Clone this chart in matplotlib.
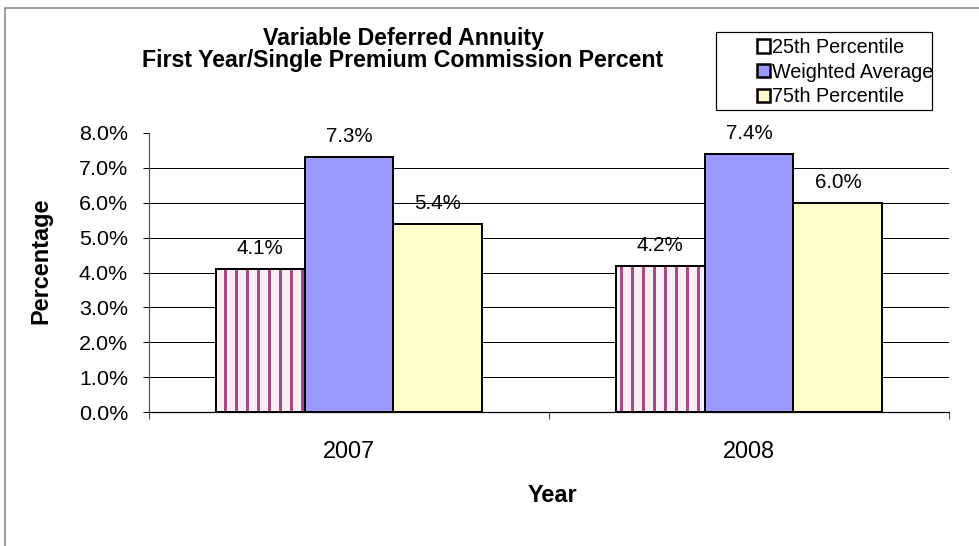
import matplotlib
matplotlib.use("Agg")
import matplotlib.pyplot as plt
import numpy as np
from matplotlib.patches import Rectangle

plt.rcParams['font.family'] = ['Liberation Sans', 'DejaVu Sans']

years = ["2007", "2008"]
series_names = ["25th Percentile", "Weighted Average", "75th Percentile"]
p25 = [0.041, 0.042]
wavg = [0.073, 0.074]
p75 = [0.054, 0.060]
yticks = [0.0, 0.01, 0.02, 0.03, 0.04, 0.05, 0.06, 0.07, 0.08]

DPI = 132
W, H = 979, 546
fig = plt.figure(figsize=(W / DPI, H / DPI), dpi=DPI)
fig.patch.set_facecolor('white')

px = lambda v: v * 72.0 / DPI  # pixels -> points

# outer chart frame
fig.patches.append(Rectangle((5 / W, -0.05), 1.2, 1 - 8 / H + 0.05, transform=fig.transFigure,
                             fill=False, edgecolor='#808080', linewidth=px(1.5), zorder=0))

ax = fig.add_axes([149 / W, 1 - 412 / H, 800 / W, (412 - 133) / H])
x = np.arange(len(years))
bw = 2 / 9

plt.rcParams['hatch.linewidth'] = px(3.0)
# hatched 25th percentile fill
ax.bar(x - bw, p25, bw, color='#FCEEF5', edgecolor='#A64C85', hatch='||', linewidth=0, zorder=3)
b1 = ax.bar(x - bw, p25, bw, facecolor='none', edgecolor='black', linewidth=px(2), zorder=4,
            label=series_names[0])
b2 = ax.bar(x, wavg, bw, color='#9999FF', edgecolor='black', linewidth=px(2), zorder=4,
            label=series_names[1])
b3 = ax.bar(x + bw, p75, bw, color='#FFFFCC', edgecolor='black', linewidth=px(2), zorder=4,
            label=series_names[2])

lab_fs = px(20.5)
for b in (b1, b2, b3):
    ax.bar_label(b, labels=[f"{v*100:.1f}%" for v in b.datavalues], padding=px(11),
                 fontsize=lab_fs, color='black')

ax.set_xlim(-0.5, 1.5)
ax.set_ylim(0, 0.08)
ax.set_yticks(yticks)
ax.set_yticklabels([f"{v*100:.1f}%" for v in yticks])
ax.tick_params(axis='y', direction='out', length=px(6), width=px(1), pad=px(15),
               labelsize=px(21.5), colors='black')
ax.yaxis.grid(True, color='black', linewidth=px(1))
ax.set_axisbelow(True)
fig.canvas.draw()
ax.yaxis.get_gridlines()[-1].set_visible(False)

ax.set_xticks([-0.5, 0.5, 1.5])
ax.set_xticklabels([])
ax.set_xticks(x, minor=True)
ax.set_xticklabels(years, minor=True)
ax.tick_params(axis='x', which='major', direction='out', length=px(7), width=px(1), color='#444444')
ax.tick_params(axis='x', which='minor', length=0, pad=px(28), labelsize=px(23.5))

for s in ('top', 'right'):
    ax.spines[s].set_visible(False)
ax.spines['left'].set_color('#555555')
ax.spines['left'].set_linewidth(px(1.2))
ax.spines['bottom'].set_color('black')
ax.spines['bottom'].set_linewidth(px(1.2))

# titles
fig.text(403 / W, 1 - 45 / H, "Variable Deferred Annuity", ha='center', va='baseline',
         fontsize=px(23.2), fontweight='bold')
fig.text(403 / W, 1 - 67 / H, "First Year/Single Premium Commission Percent", ha='center',
         va='baseline', fontsize=px(23.2), fontweight='bold')
fig.text(552 / W, 1 - 502 / H, "Year", ha='center', va='baseline', fontsize=px(23.5),
         fontweight='bold')
fig.text(41 / W, 1 - 261 / H, "Percentage", ha='center', va='center', rotation=90,
         fontsize=px(23.5), fontweight='bold')

# legend
fig.patches.append(Rectangle((716 / W, 1 - 110 / H), 216 / W, 78 / H, transform=fig.transFigure,
                             fill=True, facecolor='white', edgecolor='black', linewidth=px(1.2),
                             zorder=5))
leg = fig.legend(handles=[b1, b2, b3], labels=series_names, loc='upper left',
                 bbox_to_anchor=(757 / W, 1 - 38 / H), frameon=False, fontsize=px(19.8),
                 handlelength=0.65, handleheight=0.65, handletextpad=0.12, labelspacing=0.28,
                 borderpad=0, borderaxespad=0)
leg.set_zorder(6)
for h in leg.legend_handles:
    h.set_linewidth(px(2.5))

fig.savefig("out.png", dpi=DPI)
